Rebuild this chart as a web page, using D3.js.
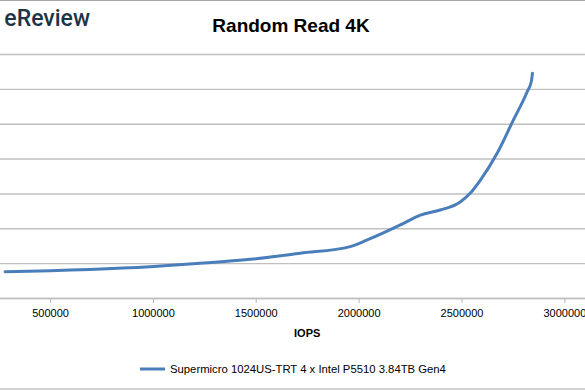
<!DOCTYPE html>
<html>
<head>
<meta charset="utf-8">
<script src="https://cdn.jsdelivr.net/npm/d3@7"></script>
<style>
  html, body { margin: 0; padding: 0; background: #fff; }
  svg { display: block; }
</style>
</head>
<body>
<div id="chart"></div>
<script>
(function(){
  "use strict";

  // chart values
  const seriesName = "Supermicro 1024US-TRT 4 x Intel P5510 3.84TB Gen4";
  const iops = [281000, 986000, 1230000, 1473000, 1716000, 1959000, 2042000,
                2203000, 2300000, 2397000, 2494000, 2543000, 2592000, 2674000, 2752000,
                2820000, 2840000, 2845000];
  const latency = [0.151, 0.180, 0.199, 0.222, 0.257, 0.295, 0.333,
                   0.419, 0.476, 0.505, 0.551, 0.602, 0.677, 0.832, 1.021,
                   1.185, 1.245, 1.29];
  // only the ticks that fall inside the visible crop
  const xTicks = [500000, 1000000, 1500000, 2000000, 2500000, 3000000];
  const yTicks = [0, 0.2, 0.4, 0.6, 0.8, 1.0, 1.2, 1.4];

  const W = 585, H = 390;
  const FONT = "'Liberation Sans', Arial, sans-serif";

  // plot area (its left part, with the y labels, is cut off in the original picture)
  const plot = {left: -52.8, top: 54, width: 720, height: 244};

  const svg = d3.select("#chart").append("svg")
    .attr("width", W).attr("height", H);

  // outer border of the chart area
  svg.append("rect")
    .attr("x", -10).attr("y", 0.5)
    .attr("width", W + 20).attr("height", H - 1.5)
    .attr("fill", "none").attr("stroke", "#a6a6a6").attr("stroke-width", 1);

  // logo fragment
  svg.append("text")
    .attr("x", 90).attr("y", 26)
    .attr("text-anchor", "end")
    .attr("font-family", "Roboto, sans-serif")
    .attr("font-weight", 500)
    .attr("font-size", 23)
    .attr("fill", "#1c3546")
    .text("eReview");

  // title
  svg.append("text")
    .attr("x", 291).attr("y", 32)
    .attr("text-anchor", "middle")
    .attr("font-family", FONT)
    .attr("font-weight", "bold")
    .attr("font-size", 19)
    .attr("fill", "#000")
    .text("Random Read 4K");

  const g = svg.append("g")
    .attr("transform", `translate(${plot.left},${plot.top})`);

  const x = d3.scaleLinear().domain([0, 3500000]).range([0, plot.width]);
  const y = d3.scaleLinear().domain([0, 1.4]).range([plot.height, 0]);

  // horizontal gridlines (labels lie outside the visible crop)
  const yAxis = g.append("g")
    .call(d3.axisLeft(y).tickValues(yTicks).tickSize(-plot.width).tickFormat(""));
  yAxis.select(".domain").remove();
  yAxis.selectAll(".tick line").attr("stroke", "#c0c0c0").attr("stroke-width", 1.4);

  // x axis
  const xAxis = g.append("g")
    .attr("transform", `translate(0,${plot.height})`)
    .call(d3.axisBottom(x).tickValues(xTicks).tickSize(5).tickPadding(6).tickFormat(d3.format("d")));
  xAxis.select(".domain").attr("stroke", "#c0c0c0").attr("stroke-width", 1.4);
  xAxis.selectAll(".tick line").attr("stroke", "#c0c0c0").attr("stroke-width", 1.2);
  xAxis.selectAll(".tick text")
    .attr("font-family", FONT).attr("font-size", 11).attr("fill", "#000");

  // axis title
  svg.append("text")
    .attr("x", plot.left + plot.width / 2).attr("y", 337)
    .attr("text-anchor", "middle")
    .attr("font-family", FONT)
    .attr("font-weight", "bold")
    .attr("font-size", 11)
    .attr("fill", "#000")
    .text("IOPS");

  // the series line
  const pts = iops.map((v, i) => [v, latency[i]]);
  const line = d3.line()
    .x(d => x(d[0]))
    .y(d => y(d[1]))
    .curve(d3.curveMonotoneX);

  g.append("path")
    .datum(pts)
    .attr("d", line)
    .attr("fill", "none")
    .attr("stroke", "#4a7ebb")
    .attr("stroke-width", 3)
    .attr("stroke-linecap", "round");

  // legend
  const legend = svg.append("g").attr("transform", "translate(140,369)");
  legend.append("line")
    .attr("x1", 0).attr("x2", 25).attr("y1", 0).attr("y2", 0)
    .attr("stroke", "#4a7ebb").attr("stroke-width", 3);
  legend.append("text")
    .attr("x", 30).attr("y", 4)
    .attr("font-family", FONT)
    .attr("font-size", 11.3)
    .attr("fill", "#000")
    .text(seriesName);
})();
</script>
</body>
</html>
